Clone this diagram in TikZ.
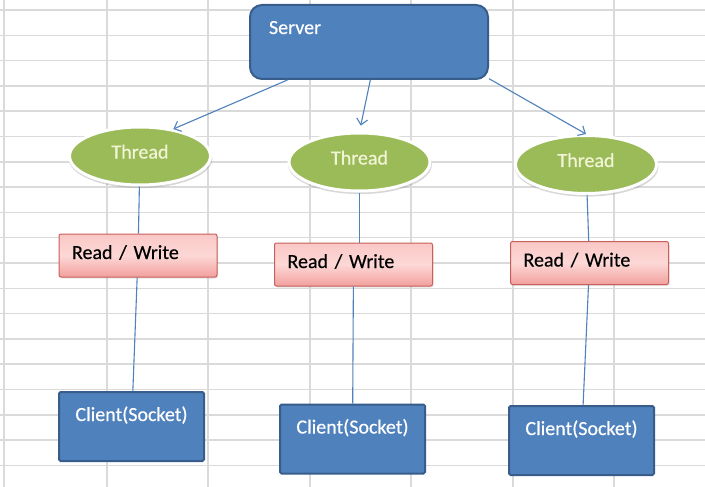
\documentclass[tikz,border=0pt]{standalone}
\usepackage{fontspec}
\setmainfont{Carlito}
\newfontfamily\shapefont{Carlito}[FakeBold=0.4]
\usetikzlibrary{shapes.geometric, arrows.meta, shadows}
\definecolor{officeblue}{RGB}{79,129,189}
\definecolor{officeblueline}{RGB}{56,93,138}
\definecolor{threadgreen}{RGB}{155,187,89}
\definecolor{threadtext}{RGB}{242,244,214}
\definecolor{rwtop}{RGB}{250,200,198}
\definecolor{rwmid}{RGB}{252,216,214}
\definecolor{rwbottom}{RGB}{242,160,157}
\definecolor{rwline}{RGB}{200,95,90}
\definecolor{cellline}{RGB}{218,218,218}
\tikzstyle{cell} = [draw=cellline, line width=1.5pt]
\tikzstyle{server} = [
  rectangle,
  rounded corners=12pt,
  draw=officeblueline,
  line width=2pt,
  fill=officeblue,
  text=white,
  inner xsep=19pt,
  inner ysep=0pt,
  text width=200pt,
  align=left,
  text height=29pt,
  text depth=45pt,
  font=\shapefont\fontsize{20}{24}\selectfont
]
\tikzstyle{thread} = [
  ellipse,
  draw=white,
  line width=3pt,
  fill=threadgreen,
  text=threadtext,
  minimum width=141pt,
  minimum height=58pt,
  inner sep=0pt,
  text height=13pt,
  text depth=8pt,
  drop shadow={opacity=0.3, fill=gray, shadow xshift=0.5pt, shadow yshift=-2.5pt, shadow scale=1.02},
  font=\shapefont\fontsize{20}{24}\selectfont
]
\tikzstyle{readwrite} = [
  rectangle,
  rounded corners=2pt,
  draw=rwline,
  line width=1pt,
  top color=rwtop,
  bottom color=rwbottom,
  middle color=rwmid,
  text=black,
  inner xsep=13pt,
  inner ysep=0pt,
  text width=132pt,
  align=left,
  text height=25pt,
  text depth=18pt,
  drop shadow={opacity=0.2, shadow xshift=1pt, shadow yshift=-1.5pt},
  font=\shapefont\fontsize{20}{24}\selectfont
]
\tikzstyle{client} = [
  rectangle,
  rounded corners=1.5pt,
  draw=officeblueline,
  line width=2pt,
  fill=officeblue,
  text=white,
  inner sep=0pt,
  text width=145pt,
  align=center,
  text height=29pt,
  text depth=40pt,
  font=\shapefont\fontsize{20}{24}\selectfont
]
\tikzstyle{link} = [draw=officeblue, line width=1.1pt]
\tikzstyle{arrow} = [link, -{Straight Barb[length=6pt, width=11pt]}]

\begin{document}
\begin{tikzpicture}[x=1pt, y=-1pt]
    \useasboundingbox [fill=white] (0,0) rectangle (705,487);
    \foreach \gx in {4, 107, 208, 310, 411, 513, 614}
      \draw [cell] (\gx,0) -- (\gx,487);
    \foreach \k in {0,...,19}
      \draw [cell] (0,{10+25.3*\k}) -- (705,{10+25.3*\k});

    \node (server) [server] at (369,42) {Server};
    \node (thread-a) [thread] at (140,156) {Thread};
    \node (thread-b) [thread] at (359.5,162) {Thread};
    \node (thread-c) [thread] at (586,164.5) {Thread};
    \node (rw-a) [readwrite] at (138,255.5) {Read / Write};
    \node (rw-b) [readwrite] at (353.5,264.5) {Read / Write};
    \node (rw-c) [readwrite] at (589.5,263) {Read / Write};
    \node (client-a) [client] at (131.5,426.5) {Client(Socket)};
    \node (client-b) [client] at (352.5,439) {Client(Socket)};
    \node (client-c) [client] at (581.5,440.5) {Client(Socket)};

    \draw [arrow] (server.205) -- (thread-a.39);
    \draw [arrow, shorten >=6pt] (server.272) -- (thread-b.north);
    \draw [arrow] (server.343) -- (thread-c.north);
    \draw [link] (thread-a) -- (rw-a);
    \draw [link] (rw-a) -- (client-a);
    \draw [link] (thread-b.south) -- (thread-b.south |- rw-b.north);
    \draw [link] (rw-b) -- (client-b);
    \draw [link] (thread-c) -- (rw-c);
    \draw [link] (rw-c) -- (client-c);
\end{tikzpicture}
\end{document}
